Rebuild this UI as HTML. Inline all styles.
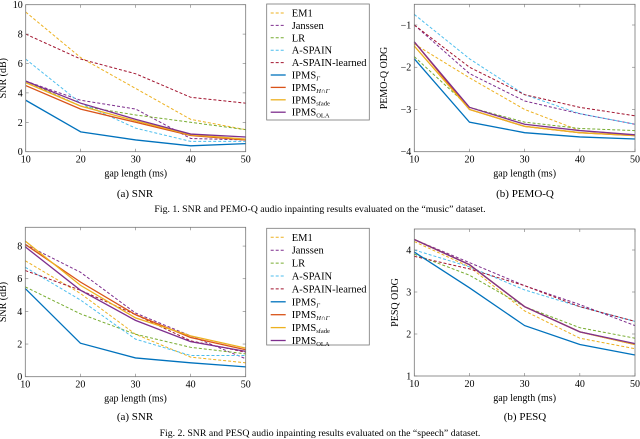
<!DOCTYPE html>
<html><head><meta charset="utf-8">
<style>
body{margin:0;background:#fff;}
svg{display:block;font-family:"Liberation Serif",serif;}
</style></head>
<body>
<svg id="fig" width="640" height="439" viewBox="0 0 640 439" xmlns="http://www.w3.org/2000/svg">
<text x="135" y="197" font-size="11" text-anchor="middle">(a) SNR</text>
<text x="525" y="197" font-size="11" text-anchor="middle">(b) PEMO-Q</text>
<text x="320" y="212" font-size="9.8" text-anchor="middle">Fig. 1.  SNR and PEMO-Q audio inpainting results evaluated on the “music” dataset.</text>
<text x="135" y="420" font-size="11" text-anchor="middle">(a) SNR</text>
<text x="525" y="420" font-size="11" text-anchor="middle">(b) PESQ</text>
<text x="320" y="436" font-size="9.8" text-anchor="middle">Fig. 2.  SNR and PESQ audio inpainting results evaluated on the “speech” dataset.</text>
</svg>
<script>
const gaps=[10,20,30,40,50];
const seriesNames=["EM1","Janssen","LR","A-SPAIN","A-SPAIN-learned","IPMS_G","IPMS_HG","IPMS_sfade","IPMS_OLA"];
const colors=["#EDB120","#7E2F8E","#77AC30","#4DBEEE","#A2142F","#0072BD","#D95319","#EDB120","#7E2F8E"];
const dashed=[true,true,true,true,true,false,false,false,false];
// music SNR
const musicSnr=[[9.5,6.4,4.3,2.2,1.5],[4.8,3.5,2.9,0.9,0.8],[4.8,3.1,2.5,2.0,1.5],[6.3,3.3,1.6,0.7,0.7],[8.0,6.3,5.3,3.7,3.3],[3.5,1.35,0.8,0.4,0.55],[4.5,2.9,2.0,1.1,0.8],[4.7,3.1,2.1,1.15,0.85],[4.8,3.3,2.2,1.2,1.0]];
// music PEMO-Q
const musicPemo=[[-1.45,-2.25,-3.0,-3.5,-3.6],[-1.0,-2.15,-2.8,-3.1,-3.35],[-1.75,-2.95,-3.3,-3.45,-3.5],[-0.75,-1.8,-2.65,-3.1,-3.35],[-1.0,-2.0,-2.65,-2.95,-3.15],[-1.8,-3.3,-3.55,-3.65,-3.7],[-1.4,-3.0,-3.4,-3.55,-3.62],[-1.5,-3.0,-3.4,-3.55,-3.62],[-1.4,-2.95,-3.35,-3.5,-3.6]];
// speech SNR
const speechSnr=[[7.1,5.1,2.6,1.2,0.85],[8.1,6.4,3.9,2.5,1.1],[5.5,3.85,2.6,1.8,1.4],[6.7,4.7,2.3,1.3,1.3],[6.5,5.3,3.8,2.2,1.5],[5.4,2.05,1.15,0.85,0.6],[8.1,5.8,3.8,2.4,1.65],[8.3,5.6,3.6,2.5,1.75],[7.95,5.3,3.45,2.15,1.55]];
// speech PESQ
const speechPesq=[[4.2,3.6,2.55,1.9,1.65],[4.25,3.7,3.15,2.7,2.2],[3.9,3.4,2.65,2.15,1.9],[4.0,3.6,3.05,2.65,2.3],[3.85,3.55,3.15,2.65,2.3],[3.95,3.1,2.2,1.75,1.5],[4.25,3.65,2.65,2.05,1.75],[4.25,3.65,2.65,2.05,1.75],[4.25,3.65,2.65,2.05,1.77]];
const xTicks=[10,20,30,40,50];
const ticksMusicSnr=[0,2,4,6,8,10];
const ticksPemo=[-4,-3,-2,-1];
const ticksSpeechSnr=[0,2,4,6,8];
const ticksPesq=[1,2,3,4];

const NS="http://www.w3.org/2000/svg";
const svg=document.getElementById('fig');
function mk(tag,attrs,parent){const e=document.createElementNS(NS,tag);for(const k in attrs)e.setAttribute(k,attrs[k]);(parent||svg).appendChild(e);return e;}

function plot(cfg){
  const g=mk('g',{});
  
  
  const sx=v=>cfg.x0+(v-10)/40*(cfg.x1-cfg.x0);
  const sy=v=>cfg.yb-(v-cfg.ymin)/(cfg.ymax-cfg.ymin)*(cfg.yb-cfg.yt);
  cfg.data.forEach((row,i)=>{
    const p=mk('polyline',{points:row.map((v,j)=>sx(gaps[j])+','+sy(v)).join(' '),fill:'none',stroke:colors[i],'stroke-width':dashed[i]?1:1.3,'stroke-dasharray':dashed[i]?'3,2':'none'},g);
    
    
  });
  const fr=mk('rect',{x:cfg.x0,y:cfg.yt,width:cfg.x1-cfg.x0,height:cfg.yb-cfg.yt,fill:'none',stroke:'#777','stroke-width':0.8},g);
  
  
  xTicks.forEach(t=>{
    mk('line',{x1:sx(t),x2:sx(t),y1:cfg.yb,y2:cfg.yb-3,stroke:'#777','stroke-width':0.6},g);
    mk('line',{x1:sx(t),x2:sx(t),y1:cfg.yt,y2:cfg.yt+3,stroke:'#777','stroke-width':0.6},g);
    const tx=mk('text',{x:sx(t),y:cfg.yb+11,'font-size':10,'text-anchor':'middle'},g);tx.textContent=t;
    
    
  });
  cfg.yTicks.forEach(t=>{
    mk('line',{x1:cfg.x0,x2:cfg.x0+3,y1:sy(t),y2:sy(t),stroke:'#777','stroke-width':0.6},g);
    mk('line',{x1:cfg.x1,x2:cfg.x1-3,y1:sy(t),y2:sy(t),stroke:'#777','stroke-width':0.6},g);
    const tx=mk('text',{x:cfg.x0-3,y:sy(t)+3.5,'font-size':10,'text-anchor':'end'},g);tx.textContent=(t<0?'\u2212'+(-t):t);
    
    
  });
  const xl=mk('text',{x:(cfg.x0+cfg.x1)/2,y:cfg.yb+25,'font-size':10,'text-anchor':'middle'},g);xl.textContent='gap length (ms)';
  
  
  const yc=(cfg.yt+cfg.yb)/2;
  const yl=mk('text',{x:cfg.ylx,y:yc,'font-size':10,'text-anchor':'middle',transform:'rotate(-90 '+cfg.ylx+' '+yc+')'},g);yl.textContent=cfg.ylabel;
  
  
}
function legend(x,y,w,h,step,name){
  const g=mk('g',{});
  
  
  mk('rect',{x:x,y:y,width:w,height:h,fill:'#fff',stroke:'#777','stroke-width':0.8},g);
  const labels=[["EM1"],["Janssen"],["LR"],["A-SPAIN"],["A-SPAIN-learned"],["IPMS","Γ"],["IPMS","H∩Γ"],["IPMS","sfade"],["IPMS","OLA"]];
  labels.forEach((l,i)=>{
    const yy=y+9+i*step;
    mk('line',{x1:x+4,x2:x+19,y1:yy,y2:yy,stroke:colors[i],'stroke-width':dashed[i]?1:1.3,'stroke-dasharray':dashed[i]?'3,2':'none'},g);
    const t=mk('text',{x:x+25,y:yy+3.5,'font-size':10.5},g);
    
    
    t.textContent=l[0];
    if(l[1]){const s=mk('tspan',{'font-size':6.5,dy:2,'font-style':l[1]==='Γ'||l[1]==='H∩Γ'?'italic':'normal'},t);s.textContent=l[1];}
  });
}
plot({name:'music-snr-chart',data:musicSnr,x0:25.7,x1:245.7,yt:4.7,yb:151.7,ymin:0,ymax:10,yTicks:ticksMusicSnr,ylabel:'SNR (dB)',ylx:6});
plot({name:'music-pemoq-chart',data:musicPemo,x0:414.3,x1:635,yt:4.3,yb:151.7,ymin:-4,ymax:-0.51,yTicks:ticksPemo,ylabel:'PEMO-Q ODG',ylx:387});
plot({name:'speech-snr-chart',data:speechSnr,x0:25.3,x1:245.7,yt:227.3,yb:376.7,ymin:0,ymax:9.15,yTicks:ticksSpeechSnr,ylabel:'SNR (dB)',ylx:6});
plot({name:'speech-pesq-chart',data:speechPesq,x0:414.3,x1:635,yt:229,yb:376,ymin:1,ymax:4.5,yTicks:ticksPesq,ylabel:'PESQ ODG',ylx:398});
legend(266.7,4,102.6,116,12.4,'music-legend');
legend(266.7,228.3,102.6,116.7,12.9,'speech-legend');
</script>
</body></html>
